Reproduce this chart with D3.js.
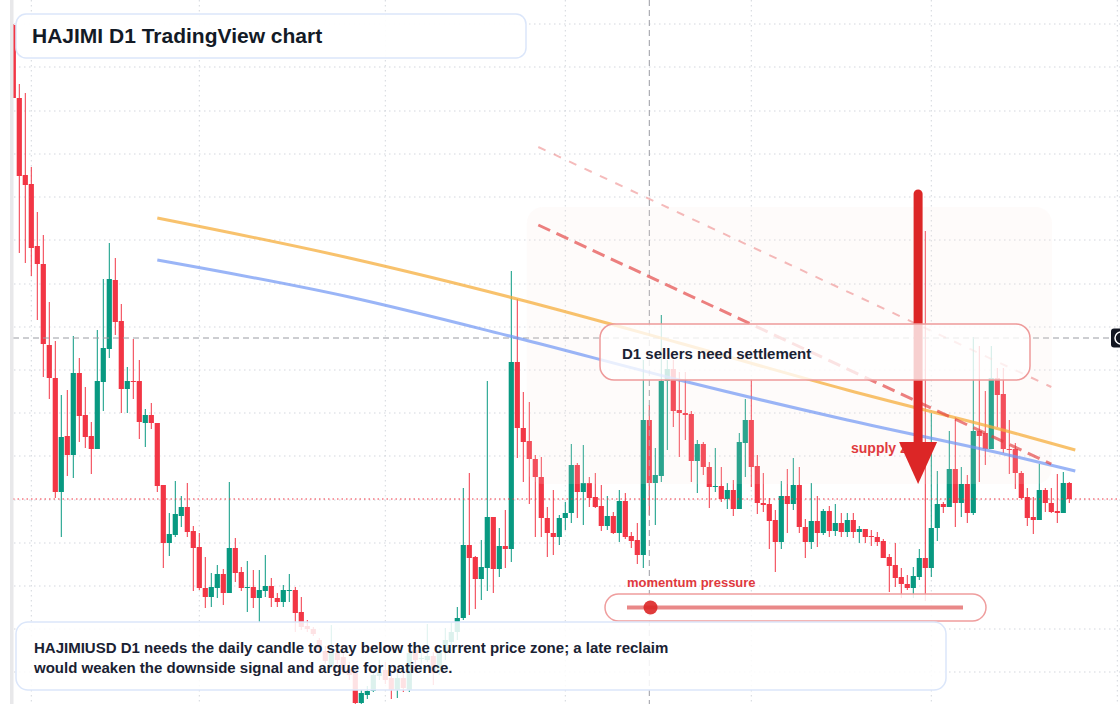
<!DOCTYPE html>
<html>
<head>
<meta charset="utf-8">
<script src="https://cdn.jsdelivr.net/npm/d3@7"></script>
<style>
  body { margin: 0; background: #fff; }
  svg { display: block; font-family: "Liberation Sans", Arial, sans-serif; }
</style>
</head>
<body>
<svg id="chart" width="1120" height="704"></svg>
<script>
// daily candles, first one is 29 Jan 2025
var startDay = new Date(Date.UTC(2025, 0, 29));

var open = [0.0775,0.0702,0.0625,0.0616,0.0554,0.0536,0.0455,0.0422,0.0308,0.0364,
0.0345,0.0427,0.0385,0.0364,0.0351,0.0418,0.0451,0.0520,0.0479,0.0411,
0.0419,0.0419,0.0377,0.0385,0.0377,0.0315,0.0257,0.0265,0.0284,0.0293,
0.0269,0.0253,0.0212,0.0203,0.0212,0.0226,0.0207,0.0252,0.0228,0.0212,
0.0213,0.0202,0.0209,0.0214,0.0202,0.0198,0.0209,0.0210,0.0188,0.0174,
0.0171,0.0160,0.0149,0.0134,0.0147,0.0143,0.0131,0.0127,0.0097,0.0105,
0.0109,0.0124,0.0130,0.0122,0.0110,0.0122,0.0110,0.0150,0.0141,0.0140,
0.0144,0.0130,0.0148,0.0158,0.0168,0.0182,0.0255,0.0243,0.0221,0.0232,
0.0283,0.0231,0.0254,0.0251,0.0438,0.0372,0.0359,0.0341,0.0323,0.0282,
0.0267,0.0263,0.0282,0.0287,0.0335,0.0308,0.0317,0.0303,0.0294,0.0274,
0.0284,0.0267,0.0299,0.0264,0.0260,0.0245,0.0380,0.0317,0.0324,0.0419,
0.0431,0.0390,0.0387,0.0386,0.0339,0.0356,0.0333,0.0313,0.0314,0.0301,
0.0310,0.0291,0.0357,0.0380,0.0334,0.0297,0.0296,0.0280,0.0258,0.0304,
0.0296,0.0315,0.0273,0.0258,0.0279,0.0267,0.0289,0.0269,0.0277,0.0268,
0.0280,0.0268,0.0271,0.0264,0.0263,0.0259,0.0243,0.0235,0.0223,0.0216,
0.0212,0.0223,0.0242,0.0232,0.0272,0.0296,0.0293,0.0331,0.0297,0.0316,
0.0287,0.0369,0.0367,0.0351,0.0422,0.0406,0.0351,0.0351,0.0327,0.0303,
0.0283,0.0280,0.0310,0.0297,0.0289,0.0287,0.0317];

var high = [0.0776,0.0716,0.0707,0.0633,0.0588,0.0565,0.0498,0.0459,0.0405,0.0410,
0.0464,0.0442,0.0413,0.0378,0.0470,0.0521,0.0557,0.0542,0.0496,0.0433,
0.0461,0.0440,0.0391,0.0397,0.0377,0.0315,0.0287,0.0319,0.0304,0.0317,
0.0274,0.0267,0.0243,0.0227,0.0235,0.0231,0.0318,0.0262,0.0233,0.0239,
0.0230,0.0230,0.0245,0.0222,0.0207,0.0215,0.0226,0.0213,0.0203,0.0180,
0.0173,0.0162,0.0154,0.0175,0.0152,0.0148,0.0138,0.0132,0.0110,0.0114,
0.0130,0.0140,0.0138,0.0128,0.0128,0.0128,0.0152,0.0155,0.0150,0.0176,
0.0148,0.0155,0.0172,0.0178,0.0193,0.0312,0.0327,0.0244,0.0260,0.0419,
0.0283,0.0272,0.0290,0.0529,0.0501,0.0408,0.0398,0.0345,0.0343,0.0293,
0.0310,0.0285,0.0298,0.0356,0.0337,0.0355,0.0323,0.0327,0.0315,0.0304,
0.0288,0.0310,0.0307,0.0268,0.0277,0.0440,0.0395,0.0352,0.0485,0.0440,
0.0440,0.0428,0.0428,0.0389,0.0360,0.0358,0.0338,0.0352,0.0333,0.0317,
0.0320,0.0367,0.0401,0.0421,0.0345,0.0327,0.0302,0.0290,0.0319,0.0331,
0.0342,0.0333,0.0281,0.0317,0.0304,0.0291,0.0294,0.0296,0.0287,0.0287,
0.0287,0.0274,0.0271,0.0270,0.0268,0.0261,0.0246,0.0257,0.0232,0.0225,
0.0233,0.0251,0.0569,0.0387,0.0329,0.0298,0.0369,0.0383,0.0333,0.0325,
0.0463,0.0454,0.0409,0.0454,0.0432,0.0432,0.0380,0.0357,0.0329,0.0312,
0.0303,0.0336,0.0312,0.0312,0.0326,0.0328,0.0318];

var low = [0.0702,0.0547,0.0537,0.0524,0.0480,0.0423,0.0401,0.0302,0.0263,0.0324,
0.0322,0.0358,0.0352,0.0326,0.0351,0.0389,0.0442,0.0465,0.0387,0.0387,
0.0401,0.0361,0.0353,0.0371,0.0308,0.0232,0.0244,0.0263,0.0273,0.0263,
0.0209,0.0210,0.0192,0.0193,0.0202,0.0195,0.0207,0.0218,0.0209,0.0188,
0.0192,0.0178,0.0203,0.0193,0.0193,0.0193,0.0198,0.0168,0.0170,0.0168,
0.0164,0.0148,0.0136,0.0132,0.0136,0.0126,0.0120,0.0096,0.0096,0.0101,
0.0108,0.0120,0.0116,0.0101,0.0102,0.0108,0.0108,0.0132,0.0136,0.0138,
0.0115,0.0125,0.0140,0.0155,0.0160,0.0180,0.0185,0.0191,0.0200,0.0209,
0.0207,0.0223,0.0232,0.0238,0.0342,0.0318,0.0296,0.0263,0.0263,0.0243,
0.0245,0.0255,0.0270,0.0277,0.0282,0.0275,0.0293,0.0292,0.0269,0.0270,
0.0266,0.0258,0.0261,0.0252,0.0236,0.0232,0.0285,0.0275,0.0318,0.0350,
0.0373,0.0343,0.0360,0.0318,0.0307,0.0325,0.0292,0.0308,0.0298,0.0291,
0.0284,0.0291,0.0323,0.0313,0.0286,0.0288,0.0251,0.0228,0.0251,0.0267,
0.0290,0.0267,0.0242,0.0251,0.0253,0.0265,0.0263,0.0264,0.0263,0.0263,
0.0262,0.0257,0.0257,0.0254,0.0254,0.0242,0.0208,0.0213,0.0202,0.0210,
0.0202,0.0220,0.0199,0.0223,0.0259,0.0287,0.0293,0.0273,0.0283,0.0277,
0.0285,0.0318,0.0335,0.0351,0.0373,0.0347,0.0326,0.0311,0.0301,0.0274,
0.0266,0.0280,0.0288,0.0287,0.0277,0.0287,0.0297];

var close = [0.0702,0.0624,0.0615,0.0552,0.0536,0.0456,0.0422,0.0308,0.0363,0.0345,
0.0427,0.0384,0.0363,0.0351,0.0419,0.0452,0.0521,0.0478,0.0411,0.0419,
0.0418,0.0378,0.0385,0.0377,0.0314,0.0257,0.0266,0.0286,0.0293,0.0268,
0.0252,0.0212,0.0203,0.0213,0.0226,0.0207,0.0252,0.0227,0.0212,0.0213,
0.0202,0.0210,0.0214,0.0202,0.0198,0.0210,0.0210,0.0187,0.0173,0.0171,
0.0166,0.0150,0.0139,0.0148,0.0140,0.0130,0.0125,0.0097,0.0107,0.0109,
0.0125,0.0128,0.0120,0.0110,0.0122,0.0112,0.0147,0.0140,0.0142,0.0144,
0.0127,0.0148,0.0160,0.0168,0.0182,0.0255,0.0242,0.0221,0.0233,0.0283,
0.0231,0.0254,0.0251,0.0438,0.0372,0.0358,0.0341,0.0323,0.0282,0.0267,
0.0263,0.0282,0.0287,0.0335,0.0308,0.0317,0.0302,0.0293,0.0274,0.0284,
0.0267,0.0299,0.0263,0.0259,0.0245,0.0380,0.0317,0.0325,0.0419,0.0431,
0.0389,0.0387,0.0385,0.0339,0.0356,0.0333,0.0313,0.0314,0.0301,0.0310,
0.0291,0.0358,0.0380,0.0333,0.0297,0.0295,0.0279,0.0258,0.0304,0.0296,
0.0315,0.0273,0.0258,0.0279,0.0267,0.0289,0.0269,0.0277,0.0268,0.0280,
0.0268,0.0271,0.0263,0.0263,0.0258,0.0242,0.0234,0.0222,0.0216,0.0212,
0.0224,0.0242,0.0232,0.0272,0.0296,0.0293,0.0331,0.0297,0.0316,0.0287,
0.0369,0.0364,0.0351,0.0422,0.0405,0.0351,0.0350,0.0327,0.0302,0.0282,
0.0280,0.0310,0.0297,0.0288,0.0287,0.0317,0.0301];

// overlay lines (day index from start, price)
var maDays = [24, 56, 84, 111, 139, 168, 177];
var maSlow = [0.0582, 0.0542, 0.0501, 0.0457, 0.0410, 0.0365, 0.0350];
var maFast = [0.0540, 0.0503, 0.0462, 0.0420, 0.0380, 0.0342, 0.0329];

var trendDays = [87.5, 173];
var trendUpper = [0.0653, 0.0413];
var trendLower = [0.0575, 0.0336];

var zoneDays = [85.6, 173.1];
var zonePrices = [0.0593, 0.0316];

var arrowDay = 150.8;
var arrowPrices = [0.0606, 0.0358, 0.0316]; // top, head, tip

var gridLevels = [0.0776, 0.0733, 0.0689, 0.0646, 0.0603, 0.0560, 0.0516, 0.0473,
    0.0430, 0.0387, 0.0344, 0.0300, 0.0257, 0.0214, 0.0171, 0.0128];

var crossDay = 106;
var crossPrice = 0.0462;
var momentum = 0.07;

var green = "#089981", red = "#f23645";

var data = open.map(function(d, i) {
    return { date: d3.utcDay.offset(startDay, i), o: d, h: high[i], l: low[i], c: close[i] };
});

var svg = d3.select("#chart");

var x = d3.scaleUtc()
    .domain([startDay, d3.utcDay.offset(startDay, 176)])
    .range([13.3, 1069.3]);
var y = d3.scaleLinear().domain([0, 0.08]).range([800, 0]);

function xDay(n) {
    return x(new Date(startDay.getTime() + n * 864e5));
}

svg.append("rect").attr("width", 1120).attr("height", 704).attr("fill", "#fff");

// grid
var grid = svg.append("g").attr("stroke", "#d3d6dd").attr("stroke-dasharray", "1.5 3.5");
grid.selectAll(".hg").data(gridLevels).enter().append("line")
    .attr("x1", 14).attr("x2", 1120)
    .attr("y1", d => y(d)).attr("y2", d => y(d));
grid.selectAll(".vg").data(d3.utcMonth.range(startDay, new Date(Date.UTC(2025, 7, 2)))).enter().append("line")
    .attr("x1", d => x(d)).attr("x2", d => x(d))
    .attr("y1", 0).attr("y2", 704);

// candles
var candle = svg.append("g").selectAll("g").data(data).enter().append("g")
    .attr("fill", d => d.c >= d.o ? green : red)
    .attr("stroke", d => d.c >= d.o ? green : red);
candle.append("line")
    .attr("x1", d => x(d.date)).attr("x2", d => x(d.date))
    .attr("y1", d => y(d.h)).attr("y2", d => y(d.l))
    .attr("stroke-width", 1);
candle.append("rect")
    .attr("stroke", "none")
    .attr("x", d => x(d.date) - 2.6)
    .attr("width", 5.2)
    .attr("y", d => y(Math.max(d.o, d.c)))
    .attr("height", d => Math.max(1, Math.abs(y(d.o) - y(d.c))));

// crosshair + last price
svg.append("line")
    .attr("x1", 13).attr("x2", 1112)
    .attr("y1", y(crossPrice)).attr("y2", y(crossPrice))
    .attr("stroke", "#9a9ca3").attr("stroke-dasharray", "6 4");
svg.append("line")
    .attr("x1", xDay(crossDay)).attr("x2", xDay(crossDay))
    .attr("y1", 0).attr("y2", 704)
    .attr("stroke", "#9a9ca3").attr("stroke-dasharray", "6 4");
svg.append("line")
    .attr("x1", 13).attr("x2", 1120)
    .attr("y1", y(close[close.length - 1])).attr("y2", y(close[close.length - 1]))
    .attr("stroke", red).attr("stroke-width", 1.2).attr("stroke-dasharray", "1.5 3");

// supply zone shading
svg.append("rect")
    .attr("x", xDay(zoneDays[0]))
    .attr("y", y(zonePrices[0]))
    .attr("width", xDay(zoneDays[1]) - xDay(zoneDays[0]))
    .attr("height", y(zonePrices[1]) - y(zonePrices[0]))
    .attr("rx", 16)
    .attr("fill", "#f7e4dc").attr("fill-opacity", 0.15);

// moving averages
var maLine = d3.line().x(d => xDay(d[0])).y(d => y(d[1])).curve(d3.curveMonotoneX);
svg.append("path")
    .attr("d", maLine(maDays.map((d, i) => [d, maSlow[i]])))
    .attr("fill", "none").attr("stroke", "#f6ad3c").attr("stroke-opacity", 0.75).attr("stroke-width", 3);
svg.append("path")
    .attr("d", maLine(maDays.map((d, i) => [d, maFast[i]])))
    .attr("fill", "none").attr("stroke", "#6f95f3").attr("stroke-opacity", 0.7).attr("stroke-width", 3);

// descending trend lines
svg.append("line")
    .attr("x1", xDay(trendDays[0])).attr("y1", y(trendUpper[0]))
    .attr("x2", xDay(trendDays[1])).attr("y2", y(trendUpper[1]))
    .attr("stroke", "#e23c3c").attr("stroke-opacity", 0.35).attr("stroke-width", 2)
    .attr("stroke-dasharray", "8 9");
svg.append("line")
    .attr("x1", xDay(trendDays[0])).attr("y1", y(trendLower[0]))
    .attr("x2", xDay(trendDays[1])).attr("y2", y(trendLower[1]))
    .attr("stroke", "#e23c3c").attr("stroke-opacity", 0.65).attr("stroke-width", 3)
    .attr("stroke-dasharray", "13 7");

svg.append("text")
    .attr("x", 851).attr("y", 453)
    .attr("fill", "#e03a3e").attr("font-size", 14).attr("font-weight", "bold")
    .text("supply zone");

// arrow
var ax = xDay(arrowDay);
svg.append("line")
    .attr("x1", ax).attr("x2", ax)
    .attr("y1", y(arrowPrices[0])).attr("y2", y(arrowPrices[1]) + 2)
    .attr("stroke", "#dc2626").attr("stroke-width", 9).attr("stroke-linecap", "round");
svg.append("path")
    .attr("d", `M${ax - 19},${y(arrowPrices[1])}L${ax + 19},${y(arrowPrices[1])}L${ax},${y(arrowPrices[2])}Z`)
    .attr("fill", "#dc2626");

// annotation boxes
svg.append("rect")
    .attr("x", 600).attr("y", 324).attr("width", 430).attr("height", 56).attr("rx", 14)
    .attr("fill", "#fff").attr("fill-opacity", 0.78)
    .attr("stroke", "#ee9a9a").attr("stroke-width", 1.5);
svg.append("text")
    .attr("x", 622).attr("y", 359)
    .attr("fill", "#1a2233").attr("font-size", 15).attr("font-weight", "bold")
    .text("D1 sellers need settlement");

svg.append("text")
    .attr("x", 627).attr("y", 587)
    .attr("fill", "#e0393e").attr("font-size", 13).attr("font-weight", "bold")
    .text("momentum pressure");
svg.append("rect")
    .attr("x", 605).attr("y", 594).attr("width", 381).attr("height", 27).attr("rx", 13.5)
    .attr("fill", "#fff").attr("fill-opacity", 0.85)
    .attr("stroke", "#ef9d9d").attr("stroke-width", 1.5);
var mScale = d3.scaleLinear().domain([0, 1]).range([627, 963]);
svg.append("line")
    .attr("x1", mScale(0)).attr("x2", mScale(1)).attr("y1", 607.5).attr("y2", 607.5)
    .attr("stroke", "#e05555").attr("stroke-opacity", 0.7).attr("stroke-width", 4);
svg.append("circle")
    .attr("cx", mScale(momentum)).attr("cy", 607.5).attr("r", 7)
    .attr("fill", "#dc2626").attr("fill-opacity", 0.9);

svg.append("rect")
    .attr("x", 16).attr("y", 622).attr("width", 930).attr("height", 68).attr("rx", 12)
    .attr("fill", "#fff").attr("fill-opacity", 0.86)
    .attr("stroke", "#dbe6fa").attr("stroke-width", 1.5);
svg.append("text")
    .attr("fill", "#1a2233").attr("font-size", 15).attr("font-weight", "bold")
    .selectAll("tspan")
    .data(["HAJIMIUSD D1 needs the daily candle to stay below the current price zone; a late reclaim",
        "would weaken the downside signal and argue for patience."])
    .enter().append("tspan")
    .attr("x", 34).attr("y", (d, i) => 653 + i * 20)
    .text(d => d);

svg.append("rect")
    .attr("x", 16).attr("y", 14).attr("width", 510).attr("height", 44).attr("rx", 10)
    .attr("fill", "#fff").attr("fill-opacity", 0.92)
    .attr("stroke", "#dbe6fa").attr("stroke-width", 1.5);
svg.append("text")
    .attr("x", 32).attr("y", 43)
    .attr("fill", "#131a26").attr("font-size", 21).attr("font-weight", "bold")
    .text("HAJIMI D1 TradingView chart");

// left edge strip and price-scale marker
svg.append("rect").attr("x", 10).attr("y", 0).attr("width", 3.5).attr("height", 704).attr("fill", "#e8e8ea");
svg.append("rect")
    .attr("x", 1111).attr("y", y(crossPrice) - 9.5).attr("width", 20).attr("height", 19).attr("rx", 3)
    .attr("fill", "#131722");
svg.append("circle")
    .attr("cx", 1121).attr("cy", y(crossPrice)).attr("r", 6)
    .attr("fill", "none").attr("stroke", "#fff").attr("stroke-width", 1.5);
</script>
</body>
</html>
